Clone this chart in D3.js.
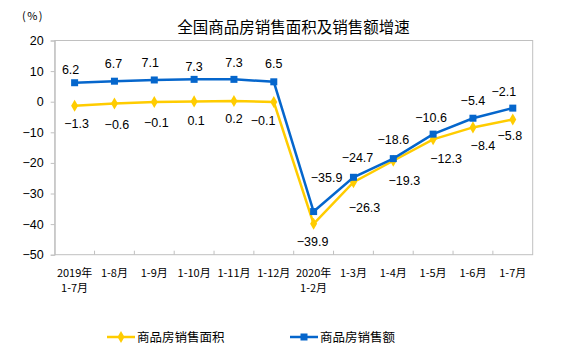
<!DOCTYPE html>
<html><head><meta charset="utf-8">
<script src="https://cdn.jsdelivr.net/npm/d3@7/dist/d3.min.js"></script>
<style>
html,body{margin:0;padding:0;background:#fff;}
svg{display:block;}
</style></head>
<body>
<svg id="chart" width="562" height="350"></svg>
<script>
const categories = [["2019年","1-7月"],["1-8月"],["1-9月"],["1-10月"],["1-11月"],["1-12月"],["2020年","1-2月"],["1-3月"],["1-4月"],["1-5月"],["1-6月"],["1-7月"]];
const areaGrowth = [-1.3,-0.6,-0.1,0.1,0.2,-0.1,-39.9,-26.3,-19.3,-12.3,-8.4,-5.8];
const amountGrowth = [6.2,6.7,7.1,7.3,7.3,6.5,-35.9,-24.7,-18.6,-10.6,-5.4,-2.1];
const yTicks = [20,10,0,-10,-20,-30,-40,-50];
const seriesNames = ["商品房销售面积","商品房销售额"];
const titleText = "全国商品房销售面积及销售额增速";
const unitText = "(%)";

// label nudges (layout only)
const amountNudge = [[-4,-13],[-1,-18],[-4,-17.5],[0,-12.5],[0,-17],[0,-18],[13,-34],[4,-20],[0,-19],[-2,-17],[0,-18],[-9,-17]];
const areaNudge = [[2,18],[2.5,21],[2,20],[2,19],[0,17],[-10.7,18],[-1,17.5],[11,25],[11,20],[13,19],[10,18],[-3,16]];

const BLUE = "#0566cc", YELLOW = "#ffcc00", GRID = "#c0c0c0";
const svg = d3.select("#chart");
const L = 54.7, R = 532.7, T = 40.5, B = 254.7;

const keys = categories.map((c,i)=>i);
const x = d3.scaleBand().domain(keys).range([L,R]);
const y = d3.scaleLinear().domain([-50,20]).range([B,T]);
const cx = i => x(i) + x.bandwidth()/2;

// title
svg.append("text").attr("x",293.5).attr("y",33).attr("text-anchor","middle")
  .attr("font-family","'Noto Sans CJK SC'").attr("font-size",15.5).attr("fill","#000").text(titleText);
svg.append("text").attr("x",22).attr("y",20).attr("font-family","'Noto Sans CJK SC'")
  .attr("font-size",11).attr("letter-spacing",1.5).attr("fill","#000").text(unitText);

// frame
svg.append("rect").attr("x",L).attr("y",T).attr("width",R-L).attr("height",B-T)
  .attr("fill","none").attr("stroke",GRID).attr("stroke-width",1);

// y axis
const yAxis = d3.axisLeft(y).tickValues(yTicks).tickSize(4).tickPadding(7).tickFormat(d3.format("d"));
const yg = svg.append("g").attr("transform",`translate(${L},0)`).call(yAxis);
yg.select(".domain").attr("stroke",GRID);
yg.selectAll(".tick line").attr("stroke",GRID);
yg.selectAll(".tick text").attr("font-family","'Liberation Sans', Arial").attr("font-size",12.5).attr("fill","#000");

// x axis ticks at band boundaries pointing up
const edges = d3.range(categories.length+1).map(i => L + i*x.step());
svg.append("g").selectAll("line").data(edges.slice(1,-1)).join("line")
  .attr("x1",d=>d).attr("x2",d=>d).attr("y1",B).attr("y2",B-4).attr("stroke",GRID);
const xl = svg.append("g");
categories.forEach((lines,i)=>{
  lines.forEach((s,j)=>{
    xl.append("text").attr("x",cx(i)).attr("y",277 + j*14.5).attr("text-anchor","middle")
      .attr("font-family","'Noto Sans CJK SC'").attr("font-size",11).attr("fill","#000").text(s);
  });
});

const line = d3.line().x((d,i)=>cx(i)).y(d=>y(d));

// area series (yellow)
svg.append("path").datum(areaGrowth).attr("d",line).attr("fill","none")
  .attr("stroke",YELLOW).attr("stroke-width",2.5);
svg.append("g").selectAll("path").data(areaGrowth).join("path")
  .attr("transform",(d,i)=>`translate(${cx(i)},${y(d)})`)
  .attr("d",d3.symbol(d3.symbolDiamond,42)).attr("fill",YELLOW);

// amount series (blue)
svg.append("path").datum(amountGrowth).attr("d",line).attr("fill","none")
  .attr("stroke",BLUE).attr("stroke-width",2.5);
svg.append("g").selectAll("rect").data(amountGrowth).join("rect")
  .attr("x",(d,i)=>cx(i)-3.5).attr("y",d=>y(d)-3.5).attr("width",7).attr("height",7).attr("fill",BLUE);

// data labels
const lab = svg.append("g").attr("font-family","'Liberation Sans', Arial").attr("font-size",12.5).attr("fill","#000").attr("text-anchor","middle");
amountGrowth.forEach((v,i)=>{
  lab.append("text").attr("x",cx(i)+amountNudge[i][0]).attr("y",y(v)+amountNudge[i][1]).attr("dy","0.36em").text(d3.format(".1f")(v));
});
areaGrowth.forEach((v,i)=>{
  lab.append("text").attr("x",cx(i)+areaNudge[i][0]).attr("y",y(v)+areaNudge[i][1]).attr("dy","0.36em").text(d3.format(".1f")(v));
});

// legend
const lg = svg.append("g");
const legendItems = [{name:seriesNames[0],color:YELLOW,x:107,sym:"d"},{name:seriesNames[1],color:BLUE,x:290,sym:"s"}];
legendItems.forEach(it=>{
  lg.append("line").attr("x1",it.x).attr("x2",it.x+28).attr("y1",337).attr("y2",337).attr("stroke",it.color).attr("stroke-width",2.5);
  if(it.sym==="d"){
    lg.append("path").attr("transform",`translate(${it.x+14},337)`).attr("d",d3.symbol(d3.symbolDiamond,42)).attr("fill",it.color);
  } else {
    lg.append("rect").attr("x",it.x+14-3.5).attr("y",333.5).attr("width",7).attr("height",7).attr("fill",it.color);
  }
  lg.append("text").attr("x",it.x+30).attr("y",337).attr("dy","0.36em").attr("font-family","'Noto Sans CJK SC'")
    .attr("font-size",12.5).attr("fill","#000").text(it.name);
});
</script>
</body></html>
